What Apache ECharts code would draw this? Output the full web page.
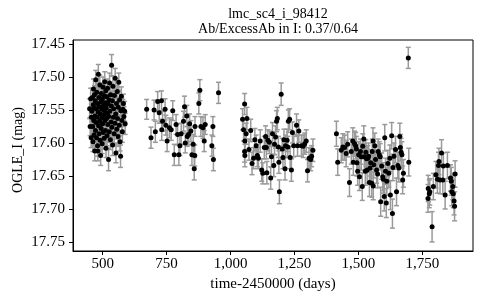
<!DOCTYPE html>
<html>
<head>
<meta charset="utf-8">
<script src="https://cdn.jsdelivr.net/npm/echarts@6/dist/echarts.min.js"></script>
<style>
html,body{margin:0;padding:0;background:#fff;}
#chart{width:480px;height:300px;}
</style>
</head>
<body>
<div id="chart"></div>
<script>
// [day, magnitude, error]
const season1 = [
[449,17.548,0.015],[451,17.575,0.014],[453,17.533,0.016],[455,17.592,0.015],[456,17.561,0.013],
[458,17.552,0.015],[460,17.531,0.014],[461,17.575,0.016],[462,17.598,0.015],[463,17.542,0.013],[464,17.518,0.015],[465,17.566,0.014],[466,17.588,0.016],[467,17.547,0.015],[468,17.527,0.014],[469,17.612,0.015],[470,17.559,0.013],[471,17.536,0.015],[472,17.581,0.016],[473,17.504,0.014],[474,17.569,0.015],[475,17.548,0.014],[476,17.592,0.015],[477,17.523,0.016],[478,17.561,0.014],[479,17.540,0.015],[480,17.604,0.016],[481,17.612,0.015],[482,17.553,0.014],[483,17.496,0.015],[484,17.574,0.013],[485,17.531,0.015],[486,17.586,0.016],[487,17.545,0.014],[488,17.567,0.015],[489,17.512,0.015],[490,17.596,0.014],[491,17.556,0.016],[492,17.619,0.015],[493,17.538,0.014],[494,17.578,0.015],[495,17.525,0.016],[496,17.562,0.014],[497,17.549,0.015],[498,17.601,0.015],[499,17.533,0.014],[500,17.571,0.016],[501,17.515,0.015],[502,17.584,0.014],[503,17.543,0.015],[504,17.558,0.013],[505,17.528,0.015],[506,17.593,0.016],[507,17.551,0.014],[508,17.507,0.015],[509,17.566,0.015],[510,17.539,0.014],[511,17.581,0.016],[512,17.521,0.015],[513,17.608,0.014],[514,17.547,0.015],[515,17.563,0.016],[516,17.530,0.014],[517,17.589,0.015],[518,17.555,0.015],[519,17.517,0.014],[520,17.572,0.016],[521,17.541,0.015],[523,17.625,0.017],[524,17.560,0.014],[525,17.535,0.015],[526,17.583,0.016],[527,17.509,0.015],[528,17.552,0.014],[530,17.595,0.015],[531,17.527,0.016],[533,17.568,0.014],[534,17.544,0.015],[535,17.482,0.016],[536,17.576,0.015],[538,17.536,0.014],[539,17.603,0.016],[540,17.514,0.015],[542,17.561,0.014],[543,17.548,0.015],[545,17.586,0.016],[546,17.528,0.015],[548,17.570,0.014],[549,17.502,0.015],[551,17.556,0.016],[552,17.615,0.015],[554,17.540,0.014],[555,17.579,0.015],[557,17.522,0.016],[558,17.563,0.014],[560,17.590,0.015],[561,17.546,0.015],[563,17.508,0.014],[565,17.573,0.016],[566,17.535,0.015],[568,17.598,0.014],[570,17.620,0.017],[571,17.551,0.015],[573,17.529,0.014],[575,17.566,0.015],[577,17.583,0.016],[579,17.549,0.015],[581,17.540,0.014],[583,17.560,0.015],[586,17.552,0.015],[588,17.571,0.016]
];
const season2 = [
[672,17.549,0.015],[689,17.592,0.016],[701,17.550,0.015],[706,17.583,0.016],[715,17.537,0.015],[721,17.554,0.016],[730,17.536,0.015],[731,17.580,0.016],[734,17.567,0.015],[744,17.549,0.016],[747,17.573,0.015],[752,17.597,0.016],[761,17.577,0.015],[768,17.580,0.016],[774,17.551,0.015],[780,17.618,0.016],[787,17.572,0.015],[793,17.587,0.016],[798,17.618,0.016],[802,17.604,0.015],[807,17.586,0.016],[816,17.567,0.015],[820,17.545,0.016],[823,17.600,0.015],[829,17.559,0.016],[831,17.590,0.015],[836,17.587,0.016],[840,17.571,0.015],[845,17.582,0.016],[849,17.618,0.016],[854,17.602,0.015],[858,17.639,0.017],[860,17.619,0.016],[861,17.575,0.015],[876,17.540,0.016],[880,17.520,0.016],[884,17.575,0.015],[892,17.577,0.016],[897,17.597,0.016],[901,17.572,0.015],[927,17.604,0.016],[931,17.575,0.015],[933,17.625,0.017],[953,17.524,0.016]
];
const season3 = [
[1047,17.564,0.016],[1051,17.580,0.017],[1055,17.541,0.016],[1056,17.597,0.017],[1055,17.613,0.016],[1056,17.619,0.017],[1061,17.586,0.016],[1064,17.563,0.017],[1072,17.610,0.016],[1079,17.581,0.017],[1084,17.631,0.017],[1090,17.623,0.016],[1095,17.595,0.017],[1100,17.604,0.016],[1105,17.619,0.017],[1109,17.623,0.016],[1116,17.597,0.017],[1122,17.641,0.017],[1126,17.646,0.016],[1132,17.607,0.017],[1137,17.590,0.016],[1140,17.607,0.017],[1142,17.645,0.017],[1146,17.596,0.016],[1152,17.599,0.017],[1157,17.653,0.017],[1160,17.621,0.016],[1164,17.586,0.017],[1169,17.634,0.017],[1172,17.602,0.016],[1176,17.591,0.017],[1180,17.567,0.016],[1183,17.563,0.017],[1187,17.606,0.016],[1189,17.629,0.017],[1191,17.674,0.018],[1198,17.526,0.017],[1202,17.609,0.016],[1205,17.622,0.017],[1209,17.595,0.016],[1213,17.639,0.017],[1215,17.604,0.016],[1221,17.596,0.017],[1224,17.606,0.016],[1226,17.567,0.017],[1231,17.564,0.016],[1233,17.622,0.017],[1238,17.641,0.017],[1242,17.584,0.016],[1247,17.604,0.017],[1258,17.573,0.017],[1262,17.604,0.016],[1267,17.582,0.017],[1277,17.604,0.016],[1284,17.605,0.017],[1290,17.601,0.016],[1296,17.597,0.017],[1301,17.642,0.017],[1307,17.623,0.016],[1313,17.625,0.017],[1317,17.620,0.016],[1322,17.611,0.017]
];
const season4 = [
[1414,17.586,0.019],[1419,17.629,0.020],[1433,17.611,0.019],[1439,17.606,0.020],[1446,17.607,0.019],[1452,17.616,0.020],[1458,17.602,0.019],[1465,17.660,0.021],[1472,17.613,0.019],[1478,17.597,0.020],[1480,17.629,0.020],[1485,17.601,0.019],[1489,17.604,0.020],[1492,17.609,0.019],[1494,17.630,0.020],[1497,17.643,0.021],[1501,17.618,0.020],[1504,17.651,0.021],[1508,17.613,0.019],[1511,17.621,0.020],[1515,17.666,0.021],[1517,17.605,0.019],[1521,17.594,0.020],[1523,17.621,0.020],[1527,17.643,0.021],[1529,17.614,0.019],[1532,17.624,0.020],[1534,17.641,0.020],[1537,17.623,0.019],[1540,17.620,0.020],[1543,17.660,0.021],[1546,17.638,0.020],[1548,17.630,0.020],[1552,17.661,0.021],[1554,17.613,0.019],[1557,17.597,0.020],[1558,17.665,0.021],[1560,17.633,0.020],[1564,17.604,0.019],[1567,17.625,0.020],[1571,17.641,0.020],[1575,17.647,0.021],[1577,17.613,0.019],[1581,17.618,0.020],[1585,17.621,0.020],[1587,17.689,0.022],[1591,17.635,0.020],[1595,17.651,0.021],[1597,17.655,0.021],[1601,17.681,0.022],[1603,17.592,0.020],[1606,17.643,0.020],[1609,17.691,0.022],[1611,17.658,0.021],[1615,17.631,0.020],[1619,17.646,0.021],[1623,17.623,0.020],[1625,17.679,0.022],[1630,17.589,0.020],[1633,17.707,0.022],[1635,17.637,0.020],[1639,17.620,0.020],[1645,17.610,0.020],[1649,17.674,0.021],[1654,17.634,0.020],[1658,17.638,0.021],[1662,17.590,0.020],[1664,17.607,0.020],[1667,17.614,0.021],[1670,17.618,0.020],[1673,17.656,0.021],[1676,17.646,0.021],[1695,17.471,0.016],[1697,17.629,0.021]
];
const season5 = [
[1772,17.684,0.021],[1773,17.669,0.020],[1777,17.677,0.021],[1779,17.674,0.020],[1788,17.727,0.023],[1793,17.666,0.020],[1803,17.648,0.020],[1809,17.655,0.021],[1813,17.634,0.020],[1815,17.628,0.020],[1819,17.656,0.021],[1825,17.615,0.020],[1830,17.656,0.021],[1832,17.635,0.020],[1839,17.679,0.021],[1848,17.634,0.020],[1860,17.653,0.020],[1863,17.658,0.021],[1865,17.674,0.021],[1869,17.666,0.020],[1871,17.677,0.021],[1874,17.688,0.021],[1876,17.696,0.022],[1878,17.647,0.020]
];
const xTicks = [500, 750, 1000, 1250, 1500, 1750];
const xTickLabels = ['500', '750', '1,000', '1,250', '1,500', '1,750'];
const yTicks = [17.45, 17.50, 17.55, 17.60, 17.65, 17.70, 17.75];
const yTickLabels = ['17.45', '17.50', '17.55', '17.60', '17.65', '17.70', '17.75'];

const points = [].concat(season1, season2, season3, season4, season5);
const FONT = 'Liberation Serif';

const chart = echarts.init(document.getElementById('chart'), null, {renderer: 'canvas'});
chart.setOption({
  animation: false,
  backgroundColor: '#fff',
  title: {
    text: 'lmc_sc4_i_98412\nAb/ExcessAb in I: 0.37/0.64',
    left: 273, top: 2, textAlign: 'center',
    textStyle: {fontFamily: FONT, fontSize: 14, fontWeight: 'normal', color: '#000', lineHeight: 15}
  },
  grid: {left: 73, right: 7, top: 40, bottom: 49, show: true, borderColor: '#000', borderWidth: 1},
  xAxis: {
    type: 'value', min: 384, max: 1948,
    axisLine: {show: true, onZero: false, lineStyle: {color: '#000', width: 1}},
    axisTick: {show: true, length: 4, customValues: xTicks, lineStyle: {color: '#000'}},
    axisLabel: {
      customValues: xTicks, margin: 6,
      formatter: v => xTickLabels[xTicks.indexOf(v)],
      fontFamily: FONT, fontSize: 15, color: '#000'
    },
    splitLine: {show: false},
    name: 'time-2450000 (days)', nameLocation: 'middle', nameGap: 20,
    nameTextStyle: {fontFamily: FONT, fontSize: 15, color: '#000'}
  },
  yAxis: {
    type: 'value', inverse: true, min: 17.4439, max: 17.7637,
    axisLine: {show: true, onZero: false, lineStyle: {color: '#000', width: 1}},
    axisTick: {show: true, length: 4, customValues: yTicks, lineStyle: {color: '#000'}},
    axisLabel: {
      customValues: yTicks, margin: 8,
      formatter: v => yTickLabels[yTicks.findIndex(t => Math.abs(t - v) < 1e-6)],
      fontFamily: FONT, fontSize: 15, color: '#000'
    },
    splitLine: {show: false}
  },
  graphic: [{
    type: 'text', x: 18.5, y: 150, rotation: Math.PI / 2,
    style: {text: 'OGLE_I (mag)', fontFamily: FONT, fontSize: 14, fill: '#000', align: 'center', verticalAlign: 'middle'}
  }],
  series: [
    {
      type: 'custom',
      data: points,
      encode: {x: 0, y: 1},
      renderItem: function (params, api) {
        const x = api.value(0), y = api.value(1), e = api.value(2);
        const top = api.coord([x, y - e]);
        const bot = api.coord([x, y + e]);
        const cw = 2.5;
        const st = {stroke: '#9a9a9a', lineWidth: 1.5};
        return {
          type: 'group',
          children: [
            {type: 'line', shape: {x1: top[0], y1: top[1], x2: bot[0], y2: bot[1]}, style: st},
            {type: 'line', shape: {x1: top[0] - cw, y1: top[1], x2: top[0] + cw, y2: top[1]}, style: st},
            {type: 'line', shape: {x1: bot[0] - cw, y1: bot[1], x2: bot[0] + cw, y2: bot[1]}, style: st}
          ]
        };
      },
      z: 2
    },
    {
      type: 'scatter',
      data: points.map(p => [p[0], p[1]]),
      symbol: 'circle', symbolSize: 5,
      itemStyle: {color: '#000', opacity: 1},
      z: 3
    }
  ]
});
</script>
</body>
</html>
